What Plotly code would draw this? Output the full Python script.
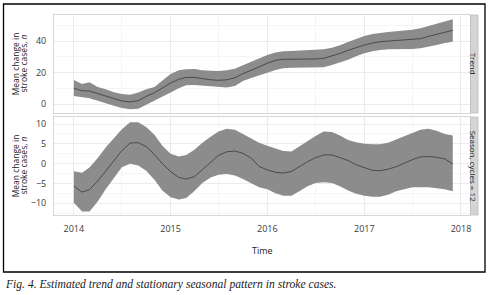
import pandas as pd
import plotly.graph_objects as go

# ---- data (monthly, Jan 2014 - Dec 2017) ----
months = pd.date_range("2014-01-01", periods=48, freq="MS")

trend_mean = [10.1, 8.6, 8.4, 6.8, 5.3, 3.6, 2.1, 1.5, 2.3, 5.0, 7.3, 10.3,
              13.5, 15.8, 17.0, 17.0, 16.1, 15.5, 15.2, 15.5, 16.8, 19.4, 21.5, 23.8,
              26.0, 27.8, 28.5, 28.5, 28.5, 28.5, 28.7, 29.1, 30.5, 32.2, 34.2, 35.9,
              37.5, 38.7, 39.6, 40.0, 40.4, 40.6, 40.8, 41.5, 43.0, 44.3, 45.5, 46.8]
trend_upper = [15.4, 12.8, 13.9, 10.9, 9.5, 7.6, 6.5, 6.1, 7.4, 9.5, 10.9, 15.0,
               19.2, 21.5, 22.2, 22.3, 21.5, 21.3, 21.1, 21.5, 22.5, 24.7, 26.8, 29.1,
               31.2, 32.7, 33.5, 33.7, 34.0, 34.2, 34.4, 34.8, 35.8, 37.3, 39.4, 41.5,
               43.2, 44.5, 45.3, 45.8, 46.2, 46.6, 47.2, 48.1, 49.6, 51.3, 52.7, 53.8]
trend_lower = [5.3, 4.6, 3.8, 2.3, 0.6, -0.9, -2.3, -3.2, -2.8, -0.4, 2.1, 4.8,
               7.4, 10.1, 12.0, 12.2, 11.8, 11.6, 10.9, 10.7, 11.6, 14.7, 16.6, 18.5,
               20.0, 21.7, 22.8, 23.2, 23.2, 23.4, 23.4, 23.4, 24.9, 26.4, 28.2, 30.4,
               32.3, 33.5, 34.4, 34.8, 34.8, 35.0, 35.0, 35.4, 36.3, 37.5, 38.8, 39.6]

season_mean = [-5.7, -7.2, -6.6, -4.4, -1.9, 0.8, 3.3, 5.2, 5.3, 4.3, 2.3, 0.0,
               -2.0, -3.5, -3.9, -3.3, -1.5, 0.5, 2.1, 3.0, 3.2, 2.6, 1.4, -0.7,
               -1.6, -2.2, -2.4, -2.0, -0.7, 0.5, 1.5, 2.2, 2.2, 1.6, 0.8, -0.3,
               -1.1, -1.7, -1.8, -1.4, -0.8, 0.2, 1.0, 1.7, 1.8, 1.6, 1.2, -0.1]
season_upper = [-1.9, -2.3, -1.0, 1.4, 4.1, 6.5, 8.7, 10.5, 10.5, 9.3, 7.3, 4.5,
                2.5, 1.8, 2.2, 3.5, 5.3, 6.8, 8.1, 8.8, 8.6, 7.5, 6.3, 5.3,
                4.5, 3.8, 3.2, 3.1, 4.4, 5.9, 7.0, 8.1, 8.0, 7.1, 6.0, 5.4,
                5.0, 4.9, 4.9, 5.3, 6.1, 7.1, 7.9, 8.6, 8.8, 8.3, 7.5, 7.1]
season_lower = [-9.9, -12.1, -12.1, -9.6, -6.5, -3.5, -0.9, 0.0, -0.5, -1.8, -4.1, -6.8,
                -8.5, -9.1, -8.7, -6.9, -4.9, -3.5, -2.8, -2.6, -3.0, -3.9, -5.0, -6.0,
                -6.5, -7.5, -8.1, -8.1, -7.0, -5.7, -4.9, -4.7, -4.9, -5.7, -6.8, -7.6,
                -8.1, -8.4, -8.4, -7.9, -7.0, -6.4, -6.0, -6.0, -6.0, -6.2, -6.5, -7.0]

year_ticks = ["2014-01-01", "2015-01-01", "2016-01-01", "2017-01-01", "2018-01-01"]
year_labels = ["2014", "2015", "2016", "2017", "2018"]
strip_labels = ["Trend", "Season, cycles = 12"]
y_title = ["Mean change in", "stroke cases, <i>n</i>"]
caption = "Fig. 4. Estimated trend and stationary seasonal pattern in stroke cases."

# ---- layout constants (pixels) ----
W, H = 490, 295
def px(x):
    return x / W
def py(y):
    return 1 - y / H

BAND = "#8c8c8c"
LINE = "#2e2e2e"
GRID = "#ebebeb"
MINOR = "#f5f5f5"
BORDER = "#d6d6d6"
TICKFONT = dict(family="Open Sans", size=9, color="#3a3a3a")

fig = go.Figure()

panels = [
    (trend_lower, trend_upper, trend_mean, "x", "y"),
    (season_lower, season_upper, season_mean, "x2", "y2"),
]
for lo, up, mid, xa, ya in panels:
    fig.add_trace(go.Scatter(x=months, y=lo, mode="lines", line=dict(width=0),
                             hoverinfo="skip", showlegend=False, xaxis=xa, yaxis=ya))
    fig.add_trace(go.Scatter(x=months, y=up, mode="lines", line=dict(width=0),
                             fill="tonexty", fillcolor=BAND, hoverinfo="skip",
                             showlegend=False, xaxis=xa, yaxis=ya))
    fig.add_trace(go.Scatter(x=months, y=mid, mode="lines",
                             line=dict(color=LINE, width=0.7),
                             showlegend=False, xaxis=xa, yaxis=ya))

xdom = [px(54), px(470)]
top_dom = [py(113), py(15)]
bot_dom = [py(215), py(117)]
xrange = ["2013-10-18", "2018-02-04"]

common_x = dict(range=xrange, domain=xdom, tickvals=year_ticks, ticktext=year_labels,
                showgrid=True, gridcolor=GRID, gridwidth=1,
                minor=dict(dtick="M6", tick0="2014-01-01", showgrid=True, gridcolor=MINOR),
                showline=True, mirror=True, linecolor=BORDER, linewidth=1,
                zeroline=False, ticks="", tickfont=TICKFONT, ticklabelstandoff=5)
common_y = dict(showgrid=True, gridcolor=GRID, gridwidth=1,
                showline=True, mirror=True, linecolor=BORDER, linewidth=1,
                zeroline=False, ticks="", tickfont=TICKFONT, ticklabelstandoff=5)

fig.update_layout(
    width=W, height=H,
    margin=dict(l=0, r=0, t=0, b=0),
    paper_bgcolor="white", plot_bgcolor="white",
    showlegend=False,
    xaxis=dict(common_x, anchor="y", showticklabels=False),
    xaxis2=dict(common_x, anchor="y2", matches="x"),
    yaxis=dict(common_y, domain=top_dom, range=[-5.5, 56.5], tickvals=[0, 20, 40],
               minor=dict(tickvals=[10, 30, 50], showgrid=True, gridcolor=MINOR)),
    yaxis2=dict(common_y, domain=bot_dom, range=[-13.0, 11.8], tickvals=[-10, -5, 0, 5, 10],
                minor=dict(tickvals=[-12.5, -7.5, -2.5, 2.5, 7.5], showgrid=True, gridcolor=MINOR)),
)

shapes = []
annotations = []
# strips
for (ytop, ybot), label in zip([(15, 113), (117, 215)], strip_labels):
    shapes.append(dict(type="rect", xref="paper", yref="paper",
                       x0=px(470.5), x1=px(478), y0=py(ybot), y1=py(ytop),
                       fillcolor="#d4d4d4", line=dict(color="#bcbcbc", width=0.8)))
    annotations.append(dict(xref="paper", yref="paper", x=px(474.3), y=py((ytop + ybot) / 2),
                            text=label, textangle=90, showarrow=False,
                            xanchor="center", yanchor="middle",
                            font=dict(family="Open Sans", size=8, color="#1a1a1a")))
    # y-axis titles (two lines)
    for xline, txt in zip([15.3, 22.6], y_title):
        annotations.append(dict(xref="paper", yref="paper", x=px(xline), y=py((ytop + ybot) / 2),
                                text=txt, textangle=-90, showarrow=False,
                                xanchor="center", yanchor="middle",
                                font=dict(family="Open Sans", size=8.5, color="#1a1a1a")))

# x title
annotations.append(dict(xref="paper", yref="paper", x=px(262), y=py(250), text="Time",
                        showarrow=False, xanchor="center", yanchor="middle",
                        font=dict(family="Open Sans", size=9, color="#1a1a1a")))
# caption
annotations.append(dict(xref="paper", yref="paper", x=px(2.5), y=py(284), text="<i>" + caption + "</i>",
                        showarrow=False, xanchor="left", yanchor="middle",
                        font=dict(family="Liberation Serif", size=11.6, color="#222222")))
# outer frame
shapes.append(dict(type="rect", xref="paper", yref="paper",
                   x0=px(3.5), x1=px(485), y0=py(272), y1=py(4),
                   line=dict(color="black", width=1.3), fillcolor="rgba(0,0,0,0)"))

fig.update_layout(shapes=shapes, annotations=annotations)
fig.write_html("out.html", config={"displayModeBar": False},
               post_script="document.body.style.margin='0';document.body.style.overflow='hidden';")
